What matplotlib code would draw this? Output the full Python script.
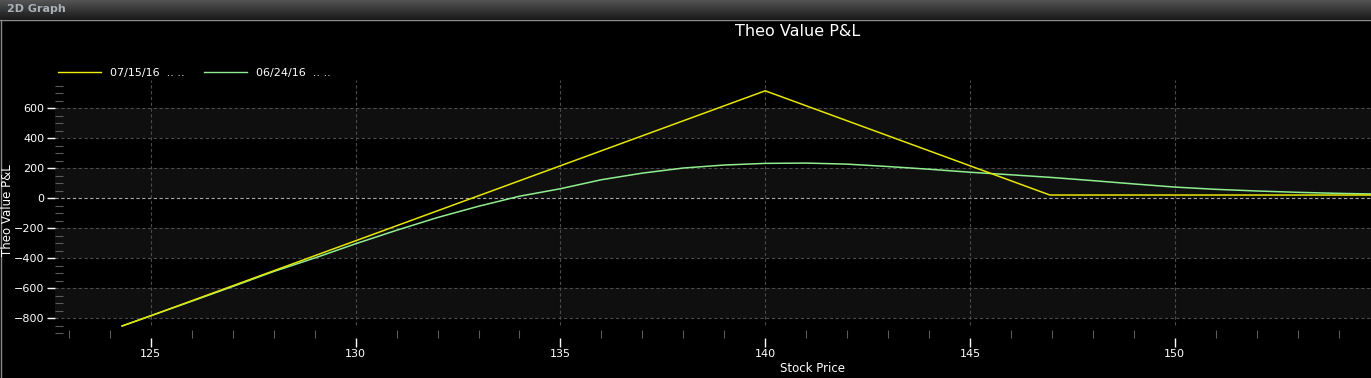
import numpy as np
import matplotlib
matplotlib.use("Agg")
from matplotlib import pyplot as plt
from matplotlib.ticker import MultipleLocator
from matplotlib.lines import Line2D

# data
price_jul = [124.3, 125, 126, 127, 128, 129, 130, 131, 132, 133, 134, 135, 136, 137, 138, 139,
             140, 141, 142, 143, 144, 145, 146, 146.95, 148, 150, 152, 154.8]
pnl_jul = [-853, -785, -685, -585, -485, -385, -285, -185, -85, 15, 115, 215, 315, 415, 515, 615,
           715, 615, 515, 415, 315, 215, 115, 20, 20, 20, 20, 20]

price_jun = [124.3, 125, 126, 127, 128, 129, 130, 131, 132, 133, 134, 135, 136, 137, 138, 139,
             140, 141, 142, 143, 144, 145, 146, 147, 148, 149, 150, 151, 152, 153, 154, 154.8]
pnl_jun = [-853, -785, -688, -590, -490, -400, -305, -215, -130, -55, 12, 62, 122, 166, 200, 220,
           231, 233, 226, 210, 192, 172, 155, 137, 116, 94, 73, 58, 47, 38, 31, 27]

labels = ["07/15/16  .. ..", "06/24/16  .. .."]
xticks = [125, 130, 135, 140, 145, 150]
yticks = [-800, -600, -400, -200, 0, 200, 400, 600]
bands = [(-800, -600), (-400, -200), (0, 200), (400, 600)]

W, H = 1371, 378
fig = plt.figure(figsize=(W / 100, H / 100), dpi=100, facecolor="black")

# window title bar
bar = fig.add_axes([0, 1 - 19 / H, 1, 19 / H])
grad = np.linspace(0.33, 0.11, 20).reshape(-1, 1)
bar.imshow(grad, aspect="auto", cmap="gray", vmin=0, vmax=1, extent=[0, 1, 0, 1])
bar.set_axis_off()
fig.text(7 / W, 1 - 9.5 / H, "2D Graph", color="#a9b1b9", fontsize=8, fontweight="bold",
         va="center", ha="left")
fig.add_artist(Line2D([0, 1], [1 - 19.5 / H] * 2, color="#8a8a8a", lw=1, transform=fig.transFigure))
fig.add_artist(Line2D([0.5 / W] * 2, [0, 1 - 19.5 / H], color="#8a8a8a", lw=1, transform=fig.transFigure))

# plot area
ax = fig.add_axes([55 / W, (H - 337.5) / H, (W - 55) / W, (337.5 - 80) / H])
ax.set_facecolor("black")
ax.set_xlim(122.66, 154.79)
ax.set_ylim(-930, 787)

for lo, hi in bands:
    ax.axhspan(lo, hi, color="#0f0f0f", lw=0, zorder=0)
for y in yticks:
    ax.axhline(y, color="#a8a8a8" if y == 0 else "#4a4a4a", lw=0.8,
               linestyle=(0, (3, 2.2)), zorder=1)
ax.vlines(xticks, -847, 787, color="#4a4a4a", lw=0.8, linestyle=(0, (3, 2.2)), zorder=1)

ax.plot(price_jun, pnl_jun, color="#90ee90", lw=1.1, zorder=3, label=labels[1])
ax.plot(price_jul, pnl_jul, color="#e6e600", lw=1.1, zorder=4, label=labels[0])

ax.xaxis.set_major_locator(MultipleLocator(5))
ax.xaxis.set_minor_locator(MultipleLocator(1))
ax.yaxis.set_major_locator(MultipleLocator(200))
ax.yaxis.set_minor_locator(MultipleLocator(50))
ax.tick_params(which="major", direction="out", color="white", labelcolor="white",
               width=1, labelsize=8)
ax.tick_params(axis="y", which="major", length=5.5, pad=2)
ax.tick_params(axis="x", which="major", length=6.5, pad=1.5)
ax.tick_params(which="minor", direction="in", color="#5a5a5a", width=0.8, length=5.5)
for s in ax.spines.values():
    s.set_visible(False)

ax.set_xlabel("Stock Price", color="white", fontsize=8.5)
ax.xaxis.set_label_coords((812 - 55) / (W - 55), -0.097)
fig.text(8 / W, 1 - 210 / H, "Theo Value P&L", color="white", fontsize=8.5, rotation=90,
         ha="center", va="center")
fig.text(798 / W, 1 - 32 / H, "Theo Value P&L", color="white", fontsize=11.5,
         ha="center", va="center")

handles = [Line2D([], [], color="#f0f000", lw=1), Line2D([], [], color="#90ee90", lw=1)]
leg = fig.legend(handles, labels, loc="center left", bbox_to_anchor=(58 / W, 1 - 73 / H),
                 ncol=2, frameon=False, fontsize=8, handlelength=3.9, handletextpad=0.8,
                 columnspacing=1.7, borderpad=0, borderaxespad=0)
for t in leg.get_texts():
    t.set_color("white")

fig.savefig("out.png", dpi=100, facecolor="black")
